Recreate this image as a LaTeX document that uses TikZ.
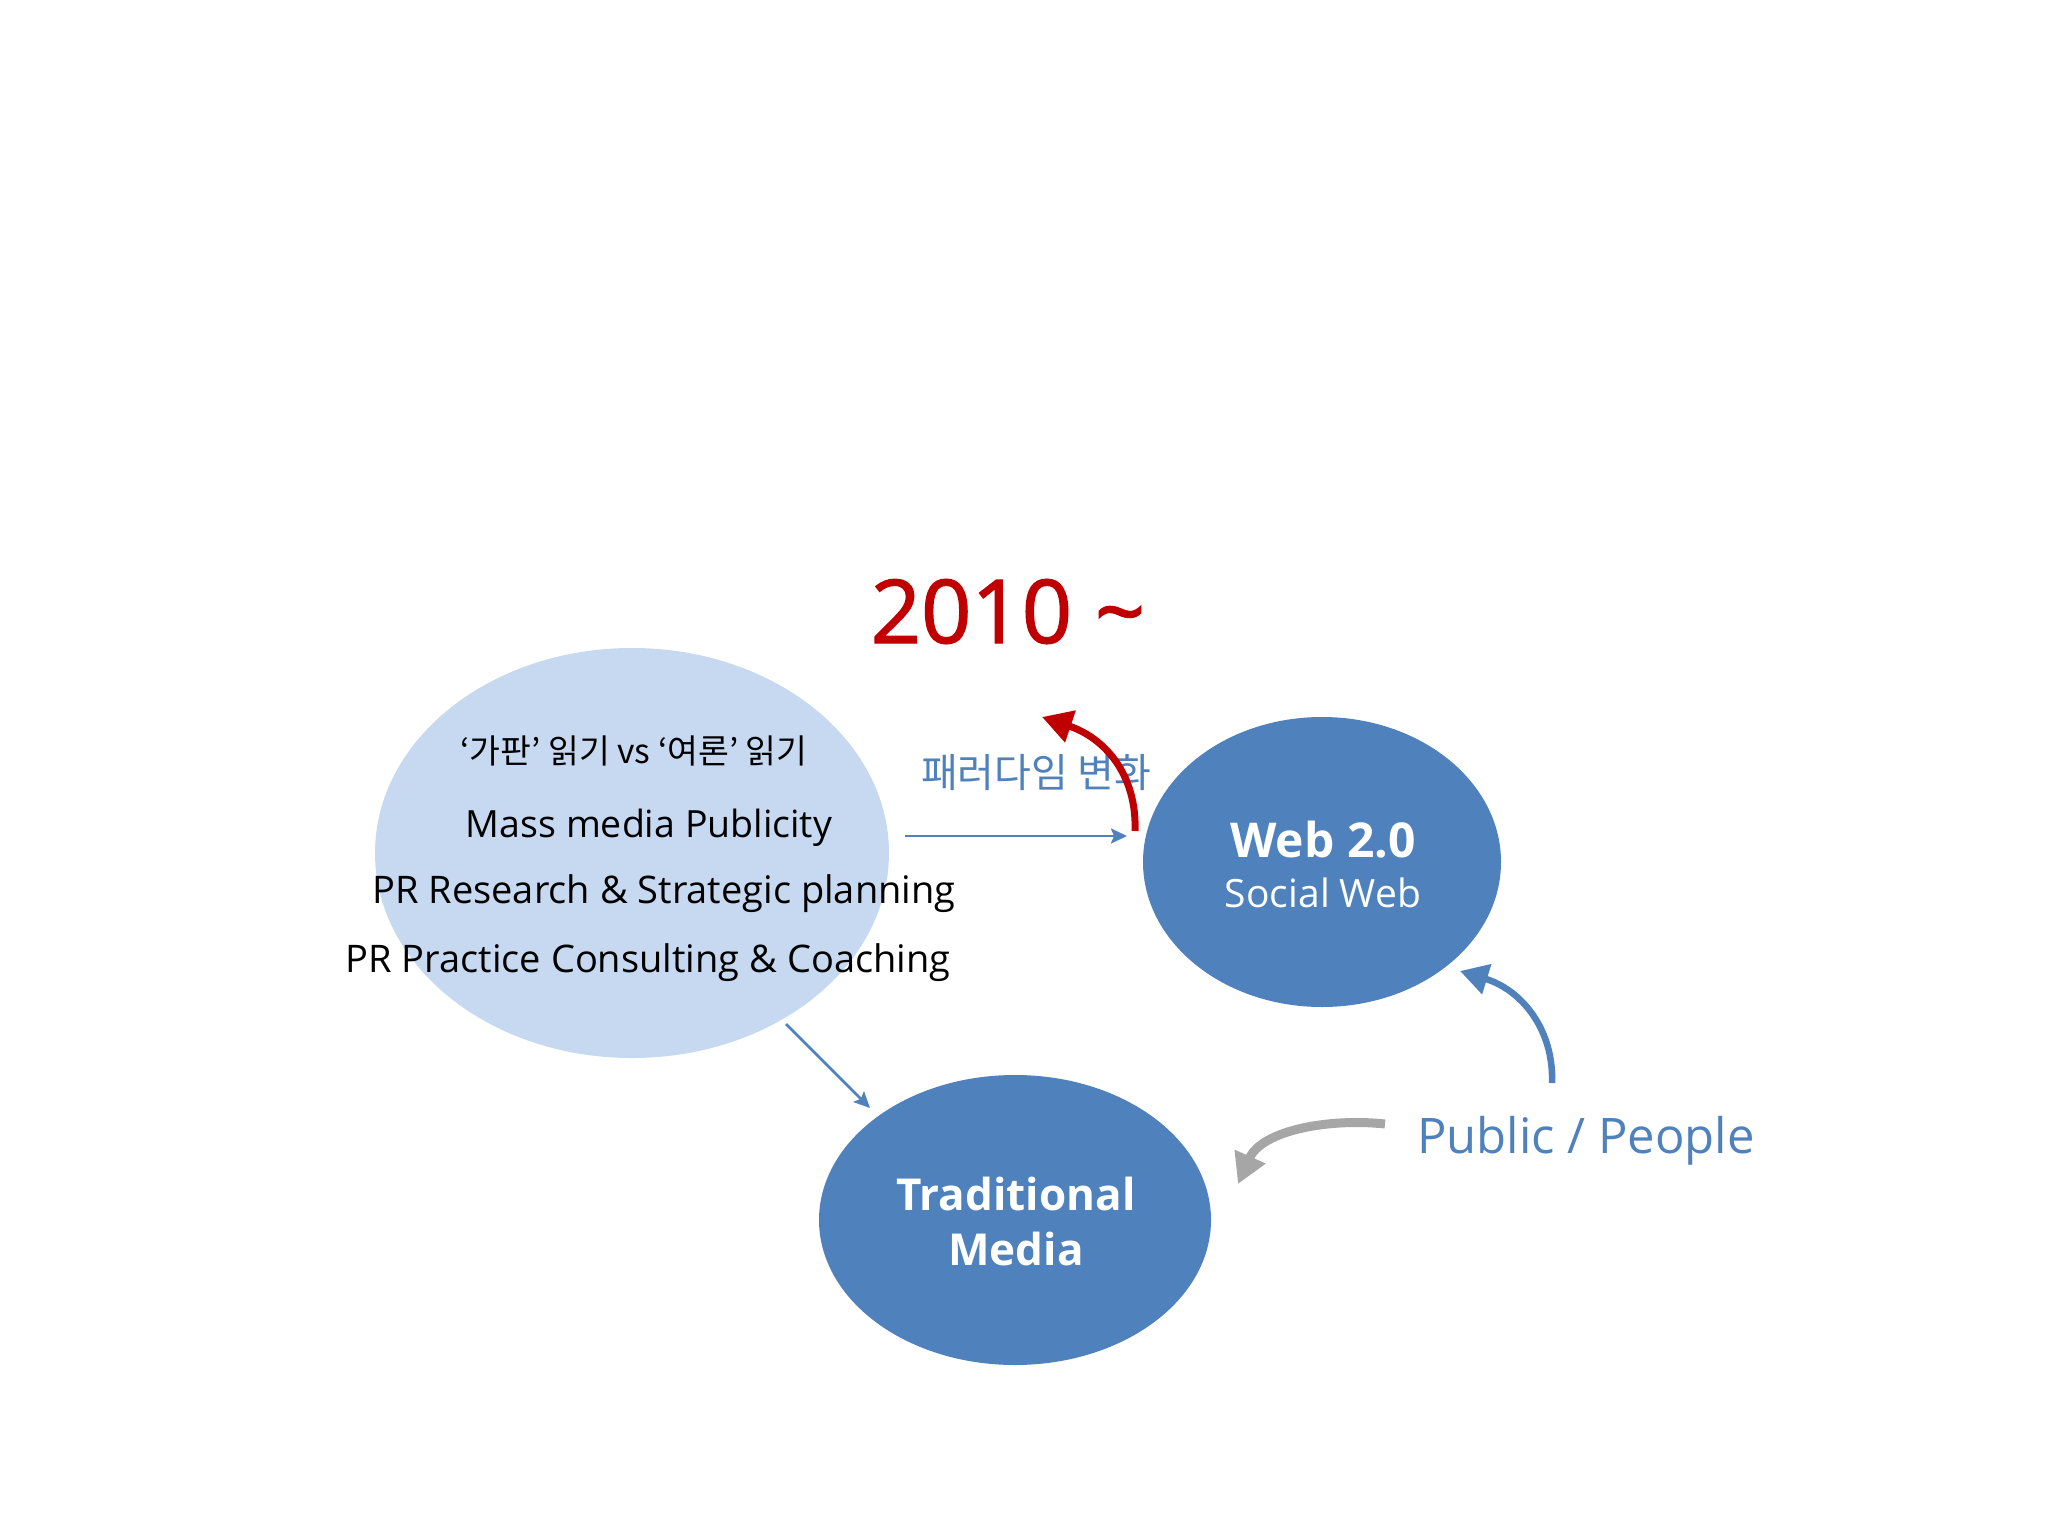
\documentclass[tikz,border=0pt]{standalone}
\usepackage{fontspec}
\setmainfont{Open Sans}
\newfontfamily\kr{Noto Sans CJK KR}
\newfontfamily\yearfont[FakeBold=1.6]{Open Sans}
\usetikzlibrary{shapes.geometric,arrows.meta}
\definecolor{lightblue}{HTML}{C6D9F0}
\definecolor{darkblue}{HTML}{4F81BD}
\definecolor{darkred}{HTML}{C00000}
\definecolor{arrowgray}{HTML}{A6A6A6}
\tikzset{
  bubble/.style={ellipse, inner sep=0pt, draw=none},
  txt/.style={anchor=base, inner sep=0pt, outer sep=0pt},
  thinarrow/.style={draw=darkblue, line width=2.6pt, -{Stealth[length=16pt,width=15pt,inset=3pt]}},
}
\begin{document}
\begin{tikzpicture}[x=1pt,y=-1pt]
\useasboundingbox[fill=white] (0,0) rectangle (2048,1536);
% bubbles
\node[bubble, fill=lightblue, minimum width=514pt, minimum height=410pt] (mass) at (632,853) {};
\node[bubble, fill=darkblue, minimum width=358pt, minimum height=290pt] (web) at (1322,862) {};
\node[bubble, fill=darkblue, minimum width=392pt, minimum height=290pt] (trad) at (1015,1220) {};
% texts
\node[txt, text=darkred, font=\yearfont\fontsize{88}{100}\selectfont] (year) at (1008,643) {2010 \char"007E};
\node[txt, font=\kr\fontsize{33.5}{40}\selectfont] (kline) at (634,763) {‘가판’ 읽기 vs ‘여론’ 읽기};
\node[txt, font=\fontsize{37.5}{44}\selectfont] (l1) at (649,837) {Mass media Publicity};
\node[txt, font=\fontsize{38}{44}\selectfont] (l2) at (664,903) {PR Research \& Strategic planning};
\node[txt, font=\fontsize{38}{44}\selectfont] (l3) at (648,972) {PR Practice Consulting \& Coaching};
\node[txt, text=darkblue, font=\kr\fontsize{40}{48}\selectfont] (para) at (1036,787) {패러다임 변화};
\node[txt, text=white, font=\bfseries\fontsize{48}{56}\selectfont] (webt) at (1323,857) {Web 2.0};
\node[txt, text=white, font=\fontsize{39}{46}\selectfont] (webs) at (1323,907) {Social Web};
\node[txt, text=white, font=\bfseries\fontsize{44}{52}\selectfont] (tradt) at (1016,1210) {Traditional};
\node[txt, text=white, font=\bfseries\fontsize{44}{52}\selectfont] (tradm) at (1016,1265) {Media};
\node[txt, text=darkblue, font=\fontsize{49}{58}\selectfont] (pub) at (1586,1153) {Public / People};
% connector end points
\coordinate (hs) at (905,836);
\coordinate (he) at (1127,836);
\coordinate (ds) at (786,1024);
\coordinate (de) at (870,1108);
\coordinate (rs) at (1135,831);
\coordinate (re) at (1042,717);
\coordinate (bs) at (1552,1083);
\coordinate (be) at (1460,971);
\coordinate (gs) at (1385,1124);
\coordinate (ge) at (1238,1184);
% connectors
\draw[thinarrow] (hs) -- (he);
\draw[thinarrow] (ds) -- (de);
\draw[darkred, line width=7pt, -{Triangle[length=30pt,width=32pt]}]
  (rs) .. controls (1137,775) and (1105,738) .. (re);
\draw[darkblue, line width=6.5pt, -{Triangle[length=28pt,width=30pt]}]
  (bs) .. controls (1554,1030) and (1522,990) .. (be);
\draw[arrowgray, line width=9pt, -{Triangle[length=30pt,width=32pt]}]
  (gs) .. controls (1330,1118) and (1262,1130) .. (ge);
\end{tikzpicture}
\end{document}
